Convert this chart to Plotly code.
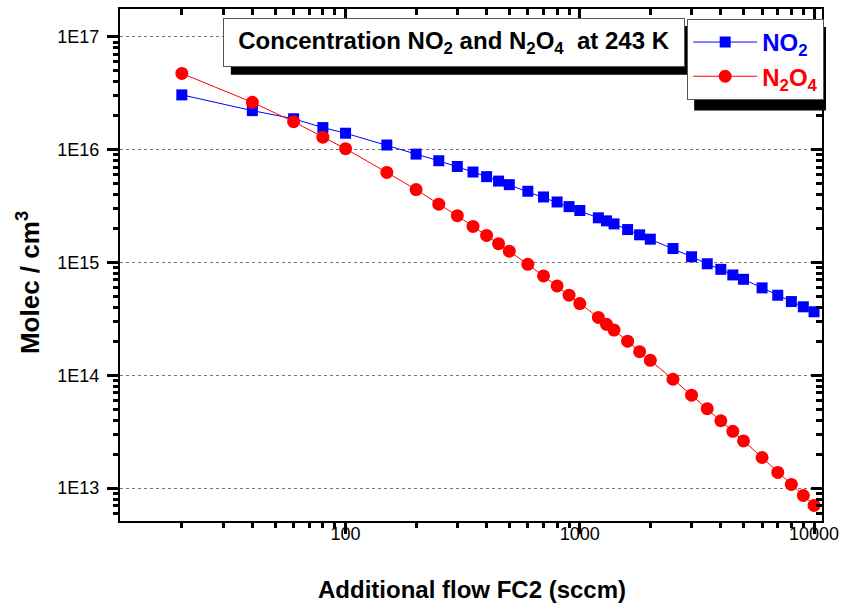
import plotly.graph_objects as go

# ---- data ----
flow = [20, 40, 60, 80, 100, 150, 200, 250, 300, 350, 400, 450, 500, 600, 700, 800, 900,
        1000, 1200, 1300, 1400, 1600, 1800, 2000, 2500, 3000, 3500, 4000, 4500, 5000,
        6000, 7000, 8000, 9000, 10000]
no2 = [3.06e16, 2.22e16, 1.88e16, 1.57e16, 1.40e16, 1.10e16, 9.14e15, 7.98e15, 7.10e15,
       6.34e15, 5.77e15, 5.27e15, 4.90e15, 4.28e15, 3.81e15, 3.44e15, 3.13e15, 2.89e15,
       2.49e15, 2.34e15, 2.20e15, 1.96e15, 1.76e15, 1.61e15, 1.33e15, 1.125e15, 9.75e14,
       8.70e14, 7.76e14, 7.10e14, 5.96e14, 5.13e14, 4.51e14, 4.05e14, 3.66e14]
n2o4 = [4.74e16, 2.63e16, 1.77e16, 1.29e16, 1.02e16, 6.29e15, 4.43e15, 3.29e15, 2.60e15,
        2.09e15, 1.74e15, 1.47e15, 1.26e15, 9.64e14, 7.60e14, 6.20e14, 5.13e14, 4.33e14,
        3.26e14, 2.83e14, 2.52e14, 2.01e14, 1.62e14, 1.36e14, 9.23e13, 6.67e13, 5.06e13,
        3.96e13, 3.19e13, 2.62e13, 1.87e13, 1.38e13, 1.08e13, 8.61e12, 7.03e12]

x_tickvals = [100, 1000, 10000]
x_ticktext = ["100", "1000", "10000"]
x_minor = [20, 30, 40, 50, 60, 70, 80, 90, 200, 300, 400, 500, 600, 700, 800, 900,
           2000, 3000, 4000, 5000, 6000, 7000, 8000, 9000]
y_tickvals = [1e13, 1e14, 1e15, 1e16, 1e17]
y_ticktext = ["1E13", "1E14", "1E15", "1E16", "1E17"]
y_minor = [m * 10 ** e for e in range(12, 18) for m in range(2, 10)]

title_text = "Concentration NO<sub>2</sub> and N<sub>2</sub>O<sub>4</sub>  at 243 K"
x_title = "Additional flow FC2 (sccm)"
y_title = "Molec / cm<sup>3</sup>"

# ---- layout geometry (pixels) ----
W, H = 846, 605
L, R, T, B = 120, 823, 7, 521
XR = [1.037, 4.034]
YR = [12.709, 17.247]


def px(x):
    return (x - L) / (R - L)


def py(y):
    return (B - y) / (B - T)


FONT = "Liberation Sans, Arial, sans-serif"
BLUE = "#0000ff"
RED = "#ff0000"
INK = "#000000"
TW = 3  # tick width

fig = go.Figure()
fig.add_trace(go.Scatter(
    x=flow, y=no2, mode="lines+markers",
    name="<span style='color:#0000ff'><b>NO<sub>2</sub></b></span>",
    line=dict(color=BLUE, width=1),
    marker=dict(symbol="square", size=11, color=BLUE, line=dict(width=0)),
))
fig.add_trace(go.Scatter(
    x=flow, y=n2o4, mode="lines+markers",
    name="<span style='color:#ff0000'><b>N<sub>2</sub>O<sub>4</sub></b></span>",
    line=dict(color=RED, width=1),
    marker=dict(symbol="circle", size=13, color=RED, line=dict(width=0)),
))
# empty traces registering the extra tick-only axes (mirror + minor ticks)
for k in (2, 3, 4):
    fig.add_trace(go.Scatter(x=[], y=[], xaxis="x%d" % k, yaxis="y%d" % k,
                             showlegend=False, hoverinfo="skip"))


def tick_axis(vals, side, inside, length, overlay, rng):
    return dict(type="log", range=rng, overlaying=overlay, side=side,
                showline=False, showgrid=False, zeroline=False,
                showticklabels=False, tickmode="array", tickvals=vals,
                ticks="inside" if inside else "outside", ticklen=length,
                tickwidth=TW, tickcolor=INK)


fig.update_layout(
    width=W, height=H,
    margin=dict(l=L, r=W - R, t=T, b=H - B, pad=0),
    paper_bgcolor="white", plot_bgcolor="white",
    font=dict(family=FONT, color="black"),
    showlegend=True,
    xaxis=dict(
        type="log", range=XR, showline=True, mirror=True, linecolor=INK,
        linewidth=2, zeroline=False, showgrid=False,
        tickmode="array", tickvals=x_tickvals, ticktext=x_ticktext,
        ticks="outside", ticklen=11, tickwidth=TW, tickcolor=INK,
        tickfont=dict(size=18, family=FONT), ticklabelstandoff=-16,
    ),
    yaxis=dict(
        type="log", range=YR, showline=True, mirror=True, linecolor=INK,
        linewidth=2, zeroline=False,
        tickmode="array", tickvals=y_tickvals, ticktext=y_ticktext,
        ticks="outside", ticklen=11, tickwidth=TW, tickcolor=INK,
        tickfont=dict(size=18, family=FONT), ticklabelstandoff=4,
        showgrid=True, gridcolor="#777777", gridwidth=1, griddash="dot",
    ),
    xaxis2=tick_axis(x_tickvals, "top", True, 11, "x", XR),
    yaxis2=tick_axis(y_tickvals, "right", True, 11, "y", YR),
    xaxis3=tick_axis(x_minor, "bottom", False, 6, "x", XR),
    yaxis3=tick_axis(y_minor, "left", False, 6, "y", YR),
    xaxis4=tick_axis(x_minor, "top", True, 6, "x", XR),
    yaxis4=tick_axis(y_minor, "right", True, 6, "y", YR),
    legend=dict(
        x=px(688), y=py(17), xanchor="left", yanchor="top",
        bgcolor="white", bordercolor="#555555", borderwidth=1,
        font=dict(size=24, family=FONT),
        itemwidth=64, tracegroupgap=0,
    ),
)

# drop shadows behind the title box and the legend box
fig.add_shape(type="rect", xref="paper", yref="paper",
              x0=px(231), x1=px(693), y0=py(24), y1=py(73),
              fillcolor="black", line=dict(width=0), layer="above")
fig.add_shape(type="rect", xref="paper", yref="paper",
              x0=px(695), x1=px(827), y0=py(25), y1=py(109),
              fillcolor="black", line=dict(width=0), layer="above")

fig.add_annotation(
    xref="paper", yref="paper", x=px(454), y=py(40.5),
    xanchor="center", yanchor="middle",
    text="<b>" + title_text + "</b>", showarrow=False,
    font=dict(size=24, family=FONT, color="black"),
    bgcolor="white", bordercolor="#555555", borderwidth=1, borderpad=1,
    width=458, height=45, align="center",
)
# axis titles
fig.add_annotation(
    xref="paper", yref="paper", x=px(473), y=py(590),
    xanchor="center", yanchor="middle", showarrow=False,
    text="<b>" + x_title + "</b>", font=dict(size=24, family=FONT, color="black"),
)
fig.add_annotation(
    xref="paper", yref="paper", x=px(29), y=py(282),
    xanchor="center", yanchor="middle", showarrow=False, textangle=-90,
    text="<b>" + y_title + "</b>", font=dict(size=26, family=FONT, color="black"),
)

fig.write_html("out.html")
